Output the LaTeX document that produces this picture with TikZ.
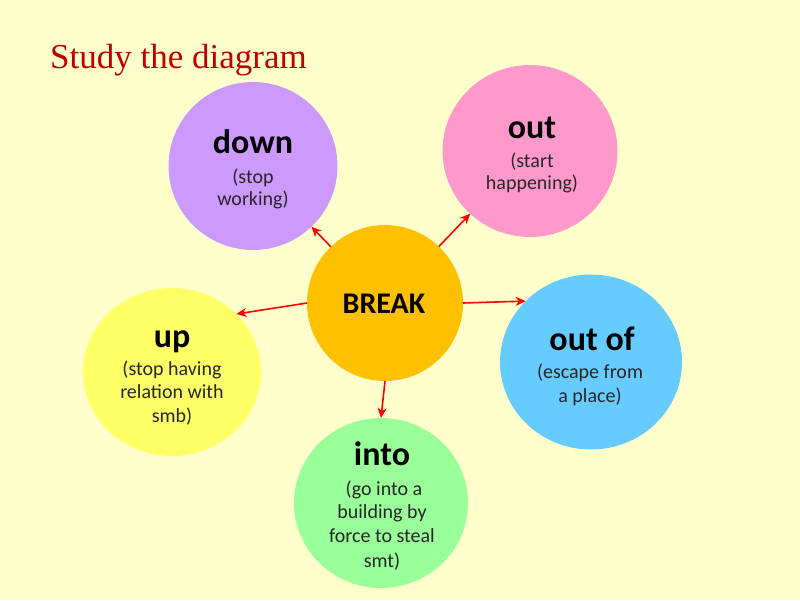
\documentclass[tikz,border=0pt]{standalone}
\usepackage{fontspec}
\setmainfont{Carlito}
\newfontfamily\titlefont{Liberation Serif}
\usetikzlibrary{shapes.geometric,arrows.meta}
\definecolor{bg}{HTML}{FFFFCC}
\definecolor{cdown}{HTML}{CC99FF}
\definecolor{cout}{HTML}{FF99CC}
\definecolor{cbreak}{HTML}{FFC000}
\definecolor{cup}{HTML}{FFFF66}
\definecolor{coutof}{HTML}{66CCFF}
\definecolor{cinto}{HTML}{99FF99}
\definecolor{ctitle}{HTML}{C00000}
\definecolor{carrow}{HTML}{FF0000}
\begin{document}
\begin{tikzpicture}[x=1pt,y=-1pt,
  blob/.style={ellipse,draw=none,inner sep=0pt,outer sep=0pt},
  head/.style={anchor=base,inner sep=0pt,font=\fontsize{34}{38}\selectfont\bfseries},
  sub/.style={anchor=base,inner sep=0pt,font=\fontsize{20}{23}\selectfont,text=black!85},
  conn/.style={draw=carrow,line width=1.6pt,-{Stealth[length=10pt,width=9pt,inset=3pt]}}]
\fill[bg] (0,0) rectangle (800,600);
\useasboundingbox (0,0) rectangle (800,600);
\node[anchor=base west,inner sep=0pt,text=ctitle,font=\titlefont\fontsize{35}{40}\selectfont] (title) at (50,68) {Study the diagram};
\node[blob,fill=cdown,minimum width=169pt,minimum height=168pt] (down) at (253,166) {};
\node[blob,fill=cout,minimum width=175pt,minimum height=172pt] (out) at (530,151) {};
\node[blob,fill=cbreak,minimum width=156pt,minimum height=156pt] (break) at (385,303) {};
\node[blob,fill=cup,minimum width=178pt,minimum height=168pt] (up) at (172,372) {};
\node[blob,fill=coutof,minimum width=182pt,minimum height=175pt] (outof) at (591,362) {};
\node[blob,fill=cinto,minimum width=174pt,minimum height=170pt] (into) at (381,503) {};
% texts
\node[head,font=\fontsize{30}{36}\selectfont\bfseries] (tbreak) at (384,313) {BREAK};
\node[head] (tdown) at (253,153) {down};
\node[sub] (tdown1) at (253,183) {(stop};
\node[sub] (tdown2) at (253,205) {working)};
\node[head] (tout) at (532,138) {out};
\node[sub] (tout1) at (532,167) {(start};
\node[sub] (tout2) at (532,189) {happening)};
\node[head] (tup) at (172,347) {up};
\node[sub] (tup1) at (172,375) {(stop having};
\node[sub] (tup2) at (172,398) {relation with};
\node[sub] (tup3) at (172,422) {smb)};
\node[head] (toutof) at (592,350) {out of};
\node[sub] (toutof1) at (590,378) {(escape from};
\node[sub] (toutof2) at (590,402) {a place)};
\node[head] (tinto) at (382,465) {into};
\node[sub] (tinto1) at (384,495) {(go into a};
\node[sub] (tinto2) at (382,518) {building by};
\node[sub] (tinto3) at (382,542) {force to steal};
\node[sub] (tinto4) at (382,567) {smt)};
% connectors
\draw[conn] (break) -- (down);
\draw[conn] (break) -- (out);
\draw[conn] (break.west) -- (up.42);
\draw[conn] (break.east) -- (outof.137);
\draw[conn] (break.south) -- (into.north);
\end{tikzpicture}
\end{document}
